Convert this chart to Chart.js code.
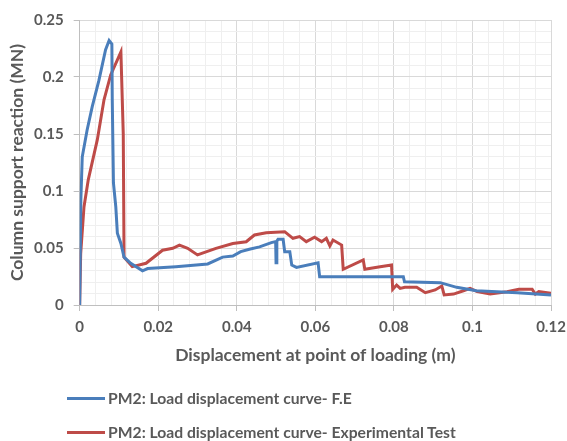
<!DOCTYPE html>
<html>
<head>
<meta charset="utf-8">
<script src="https://cdn.jsdelivr.net/npm/chart.js@4/dist/chart.umd.min.js"></script>
<style>
  html, body { margin: 0; padding: 0; background: #fff; }
  #wrap { width: 567px; height: 441px; position: relative; }
  #legend { position: absolute; left: 67px; top: 381px; font-family: Lato, sans-serif; font-size: 15.7px; font-weight: bold; color: #595959; }
  .item { height: 34px; display: flex; align-items: center; white-space: nowrap; }
  .swatch { width: 38px; height: 3px; margin-right: 3px; }
</style>
</head>
<body>
<div id="wrap"><canvas id="chart"></canvas><div id="legend"></div></div>
<script>
// F.E curve (displacement m, reaction MN)
const feX = [0, 0.0003, 0.00066, 0.0019, 0.0032, 0.0049, 0.0066, 0.0075, 0.0082, 0.0083, 0.0086, 0.0092, 0.0096, 0.0105, 0.0113, 0.013, 0.016, 0.0173, 0.0245, 0.0326, 0.0364, 0.039, 0.041, 0.0432, 0.0458, 0.0488, 0.0499, 0.0500, 0.0502, 0.0505, 0.0518, 0.0522, 0.0535, 0.054, 0.0552, 0.0607, 0.0611, 0.0824, 0.0827, 0.0918, 0.096, 0.101, 0.1114, 0.12];
const feY = [0, 0.092, 0.130, 0.1535, 0.174, 0.197, 0.224, 0.232, 0.229, 0.18, 0.107, 0.086, 0.063, 0.054, 0.042, 0.0365, 0.030, 0.032, 0.0336, 0.036, 0.042, 0.043, 0.0468, 0.0489, 0.051, 0.0547, 0.0556, 0.037, 0.0560, 0.0576, 0.0576, 0.0468, 0.0468, 0.035, 0.033, 0.037, 0.0248, 0.0248, 0.0204, 0.0196, 0.0155, 0.0125, 0.0108, 0.0088];

// Experimental test curve
const expX = [0, 0.00026, 0.0011, 0.0022, 0.0045, 0.0062, 0.0079, 0.0105, 0.0111, 0.0113, 0.0134, 0.0169, 0.0211, 0.0237, 0.0254, 0.0275, 0.030, 0.0347, 0.039, 0.0424, 0.0445, 0.0475, 0.0522, 0.0543, 0.056, 0.0577, 0.0598, 0.0616, 0.0628, 0.0637, 0.0645, 0.0667, 0.0671, 0.0722, 0.0726, 0.0765, 0.0794, 0.0797, 0.0807, 0.0816, 0.0828, 0.0858, 0.088, 0.0905, 0.0922, 0.0928, 0.0952, 0.0977, 0.0994, 0.1012, 0.1045, 0.1088, 0.1118, 0.1152, 0.116, 0.1169, 0.12];
const expY = [0, 0.045, 0.086, 0.11, 0.145, 0.18, 0.2018, 0.222, 0.15, 0.042, 0.0336, 0.0366, 0.048, 0.0497, 0.0526, 0.0497, 0.0439, 0.0497, 0.054, 0.0555, 0.0614, 0.0634, 0.0643, 0.0585, 0.060, 0.0556, 0.0594, 0.0556, 0.0585, 0.0518, 0.057, 0.0526, 0.0313, 0.0395, 0.0313, 0.0336, 0.0351, 0.0138, 0.0175, 0.0146, 0.0155, 0.0155, 0.0108, 0.0132, 0.0167, 0.0088, 0.0096, 0.0125, 0.0146, 0.0117, 0.0096, 0.0117, 0.0138, 0.0138, 0.0096, 0.0117, 0.0103];

const seriesNames = ['PM2: Load displacement curve- F.E', 'PM2: Load displacement curve- Experimental Test'];
const seriesColors = ['#4a7ebb', '#be4b48'];
const xTitle = 'Displacement at point of loading (m)';
const yTitle = 'Column support reaction (MN)';

const toPoints = (xs, ys) => xs.map((x, i) => ({ x: x, y: ys[i] }));

const textColor = '#595959';
const majorGrid = '#d9d9d9';
const minorGrid = '#efefef';
const font = 'Lato';

function gridColor(ctx) {
  return ctx.index % 5 === 0 ? majorGrid : minorGrid;
}
function tickColor(ctx) {
  return ctx.index % 5 === 0 ? '#bfbfbf' : 'rgba(0,0,0,0)';
}
function tickLabel(v, i) {
  return i % 5 === 0 ? String(Math.round(v * 1000) / 1000) : '';
}

const chart = new Chart(document.getElementById('chart'), {
  type: 'scatter',
  data: {
    datasets: [
      {
        label: seriesNames[0],
        data: toPoints(feX, feY),
        showLine: true,
        borderColor: seriesColors[0],
        backgroundColor: seriesColors[0],
        borderWidth: 3,
        pointRadius: 0,
        tension: 0
      },
      {
        label: seriesNames[1],
        data: toPoints(expX, expY),
        showLine: true,
        borderColor: seriesColors[1],
        backgroundColor: seriesColors[1],
        borderWidth: 3,
        pointRadius: 0,
        tension: 0
      }
    ]
  },
  options: {
    responsive: true,
    maintainAspectRatio: false,
    animation: false,
    layout: { padding: { left: -6, right: 0, top: 20, bottom: 71 } },
    plugins: {
      tooltip: { enabled: false },
      legend: { display: false }
    },
    scales: {
      x: {
        type: 'linear',
        min: 0,
        max: 0.12,
        // let the last tick label overhang like the original does
        afterFit: scale => { scale.paddingRight = 16; },
        ticks: {
          stepSize: 0.004,
          autoSkip: false,
          maxRotation: 0,
          color: textColor,
          font: { family: font, size: 15, weight: 'bold' },
          padding: 7,
          callback: tickLabel
        },
        grid: { color: gridColor, tickColor: tickColor, tickLength: 6 },
        border: { color: '#bfbfbf' },
        title: {
          display: true,
          text: xTitle,
          color: textColor,
          font: { family: font, size: 17.5, weight: 'bold' },
          padding: { top: 2, bottom: 4 }
        }
      },
      y: {
        type: 'linear',
        min: 0,
        max: 0.25,
        ticks: {
          stepSize: 0.01,
          autoSkip: false,
          color: textColor,
          font: { family: font, size: 15, weight: 'bold' },
          padding: 10,
          callback: tickLabel
        },
        grid: { color: gridColor, tickColor: tickColor, tickLength: 6 },
        border: { color: '#bfbfbf' },
        title: {
          display: true,
          text: yTitle,
          color: textColor,
          font: { family: font, size: 17.5, weight: 'bold' },
          padding: { top: 13, bottom: -4 }
        }
      }
    }
  }
});

// legend built from the chart's datasets
const legend = document.getElementById('legend');
chart.data.datasets.forEach(ds => {
  const row = document.createElement('div');
  row.className = 'item';
  const sw = document.createElement('span');
  sw.className = 'swatch';
  sw.style.background = ds.borderColor;
  row.appendChild(sw);
  row.appendChild(document.createTextNode(ds.label));
  legend.appendChild(row);
});
</script>
</body>
</html>
